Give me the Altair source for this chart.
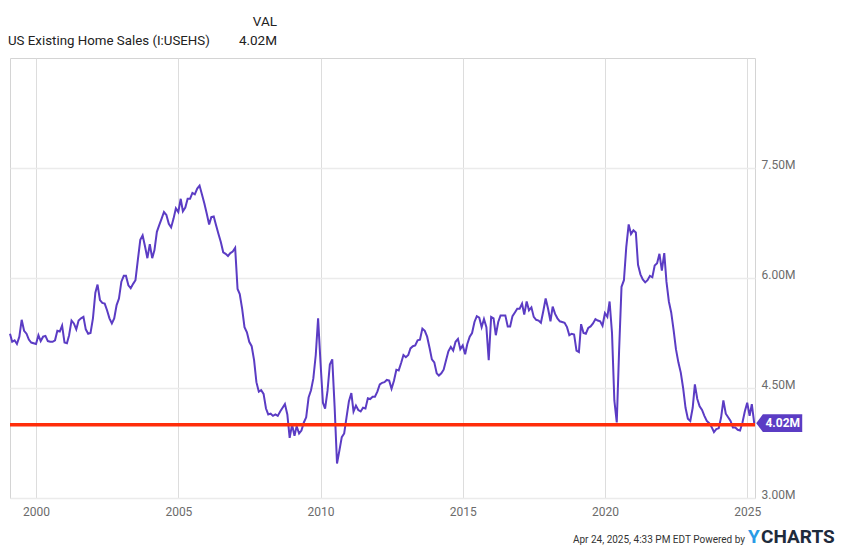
import calendar
import altair as alt
import pandas as pd

# ---------------- data ----------------
start_year, start_month = 1999, 1
sales_millions = [
    # 1999
    5.24, 5.13, 5.15, 5.10, 5.20, 5.43, 5.28, 5.24, 5.16, 5.12, 5.11, 5.10,
    # 2000
    5.22, 5.14, 5.20, 5.21, 5.14, 5.13, 5.13, 5.15, 5.28, 5.27, 5.35, 5.12,
    # 2001
    5.11, 5.22, 5.42, 5.38, 5.30, 5.42, 5.45, 5.47, 5.30, 5.24, 5.25, 5.45,
    # 2002
    5.80, 5.91, 5.70, 5.66, 5.65, 5.56, 5.45, 5.38, 5.45, 5.63, 5.72, 5.95,
    # 2003
    6.03, 6.03, 5.90, 5.86, 5.92, 5.97, 6.25, 6.52, 6.58, 6.43, 6.27, 6.46,
    # 2004
    6.27, 6.38, 6.63, 6.72, 6.81, 6.90, 6.86, 6.74, 6.69, 6.81, 6.95, 6.90,
    # 2005
    7.08, 6.91, 6.96, 7.08, 7.08, 7.16, 7.14, 7.22, 7.26, 7.14, 7.02, 6.88,
    # 2006
    6.73, 6.83, 6.84, 6.72, 6.60, 6.49, 6.35, 6.33, 6.30, 6.34, 6.36, 6.41,
    # 2007
    5.85, 5.78, 5.58, 5.33, 5.26, 5.13, 5.07, 4.88, 4.58, 4.45, 4.47, 4.42,
    # 2008
    4.22, 4.14, 4.15, 4.12, 4.14, 4.12, 4.18, 4.23, 4.28, 4.14, 3.82, 4.00,
    # 2009
    3.85, 3.98, 3.88, 3.92, 4.03, 4.10, 4.37, 4.47, 4.63, 4.95, 5.45, 4.85,
    # 2010
    4.30, 4.22, 4.46, 4.82, 4.89, 4.25, 3.47, 3.65, 3.83, 3.88, 4.10, 4.32,
    # 2011
    4.43, 4.18, 4.26, 4.20, 4.18, 4.23, 4.22, 4.36, 4.35, 4.38, 4.38, 4.45,
    # 2012
    4.55, 4.57, 4.58, 4.61, 4.60, 4.49, 4.60, 4.75, 4.74, 4.84, 4.95, 4.92,
    # 2013
    4.95, 5.04, 5.07, 5.08, 5.15, 5.16, 5.31, 5.28, 5.20, 5.05, 4.89, 4.85,
    # 2014
    4.70, 4.67, 4.70, 4.75, 4.88, 5.00, 5.06, 5.01, 5.13, 5.17, 5.03, 5.08,
    # 2015
    4.96, 5.10, 5.20, 5.25, 5.40, 5.48, 5.46, 5.33, 5.44, 5.33, 4.88, 5.47,
    # 2016
    5.45, 5.22, 5.40, 5.49, 5.49, 5.49, 5.34, 5.34, 5.48, 5.53, 5.58, 5.58,
    # 2017
    5.65, 5.50, 5.68, 5.56, 5.60, 5.47, 5.43, 5.42, 5.39, 5.55, 5.72, 5.58,
    # 2018
    5.41, 5.61, 5.51, 5.45, 5.41, 5.40, 5.39, 5.33, 5.22, 5.24, 5.23, 5.01,
    # 2019
    4.99, 5.37, 5.25, 5.24, 5.32, 5.34, 5.38, 5.44, 5.42, 5.41, 5.35, 5.52,
    # 2020
    5.47, 5.68, 5.25, 4.33, 4.03, 5.01, 5.88, 5.97, 6.42, 6.73, 6.60, 6.65,
    # 2021
    6.62, 6.18, 6.05, 5.98, 5.94, 5.97, 6.03, 6.01, 6.17, 6.20, 6.33, 6.10,
    # 2022
    6.34, 5.95, 5.68, 5.53, 5.29, 5.03, 4.85, 4.71, 4.50, 4.23, 4.08, 4.05,
    # 2023
    4.23, 4.55, 4.35, 4.25, 4.20, 4.12, 4.05, 4.02, 3.97, 3.90, 3.94, 3.95,
    # 2024
    4.10, 4.33, 4.15, 4.10, 4.05, 3.96, 3.96, 3.93, 3.92, 4.03, 4.18, 4.30,
    # 2025
    4.12, 4.28, 4.02,
]
reference_level = 4.0
y_tick_values = [3.0, 4.5, 6.0, 7.5]
x_tick_years = [2000, 2005, 2010, 2015, 2020, 2025]
series_name = "US Existing Home Sales (I:USEHS)"
last_label = "4.02M"
footer_text = "Apr 24, 2025, 4:33 PM EDT Powered by"

# month-end dates
dates = []
yy, mm = start_year, start_month
for _ in sales_millions:
    dd = calendar.monthrange(yy, mm)[1]
    dates.append(f"{yy:04d}-{mm:02d}-{dd:02d}")
    mm += 1
    if mm > 12:
        mm = 1
        yy += 1

df = pd.DataFrame({"date": dates, "value": sales_millions})
last_df = pd.DataFrame({"date": [dates[-1]], "value": [sales_millions[-1]], "label": [last_label]})
ref_df = pd.DataFrame({"level": [reference_level]})

PURPLE = "#5b3cc4"
RED = "#ff2d0a"
FONT = "Roboto"

x_scale = alt.Scale(
    type="utc",
    domain=[alt.DateTime(year=1999, month=1, date=31, utc=True),
            alt.DateTime(year=2025, month=4, date=10, utc=True)],
)
y_scale = alt.Scale(domain=[3.0, 9.0], nice=False, zero=False)

x_axis = alt.Axis(
    values=[alt.DateTime(year=y, month=1, date=1, utc=True) for y in x_tick_years],
    format="%Y", title=None, ticks=False, domain=False,
    labelColor="#6b6b6b", labelFontSize=12, labelFont=FONT, labelPadding=8,
    grid=True, gridColor="#dddddd", gridWidth=1,
)
y_axis = alt.Axis(
    orient="right", values=y_tick_values, title=None, ticks=False, domain=False,
    labelExpr="format(datum.value, '.2f') + 'M'",
    labelColor="#6b6b6b", labelFontSize=12, labelFont=FONT, labelPadding=6,
    labelBaseline="alphabetic",
    grid=True, gridColor="#ebebeb", gridWidth=1.5,
)

line = alt.Chart(df).mark_line(color=PURPLE, strokeWidth=2).encode(
    x=alt.X("date:T", scale=x_scale, axis=x_axis),
    y=alt.Y("value:Q", scale=y_scale, axis=y_axis),
)

ref_rule = alt.Chart(ref_df).mark_rule(color=RED, strokeWidth=3.5).encode(
    y=alt.Y("level:Q", scale=y_scale),
)

tag_path = "M -1 0 L -0.71 -0.385 L 1 -0.385 L 1 0.385 L -0.71 0.385 Z"
tag = alt.Chart(last_df).mark_point(
    shape=tag_path, size=2116, filled=True, color=PURPLE, opacity=1, xOffset=25
).encode(x=alt.X("date:T", scale=x_scale), y=alt.Y("value:Q", scale=y_scale))

tag_text = alt.Chart(last_df).mark_text(
    color="white", font=FONT, fontSize=12, fontWeight="bold", align="center",
    baseline="middle", xOffset=28.5, dy=0
).encode(x=alt.X("date:T", scale=x_scale), y=alt.Y("value:Q", scale=y_scale), text="label:N")


def label(txt, x, y, size=14, color="#222222", align="left", weight="normal", baseline="middle"):
    return alt.Chart(pd.DataFrame({"t": [txt]})).mark_text(
        font=FONT, fontSize=size, color=color, align=align, baseline=baseline,
        fontWeight=weight,
    ).encode(x=alt.value(x), y=alt.value(y), text="t:N")


head_name = label(series_name, -2, -17, size=13.3)
head_val = label("VAL", 267, -36, size=13.5, align="right")
head_num = label(last_label, 267, -17, size=13.5, align="right")
foot = label(footer_text, 735, 485, size=10, color="#333333", align="right", baseline="alphabetic")
logo_y = label("Y", 738, 485, size=19, color="#2a9be6", weight="bold", baseline="alphabetic")
logo_rest = label("CHARTS", 751, 485, size=19, color="#1e2b3c", weight="bold", baseline="alphabetic")

chart = alt.layer(
    line, ref_rule, tag, tag_text, head_name, head_val, head_num, foot, logo_y, logo_rest
).properties(
    width=745, height=440,
    autosize=alt.AutoSizeParams(type="none"),
    padding={"left": 2, "top": 50, "right": 87, "bottom": 49},
    background="white",
).configure_view(
    stroke="#d4d4d4", strokeWidth=1
)

chart.save("out.html", embed_options={"renderer": "svg", "actions": False})
